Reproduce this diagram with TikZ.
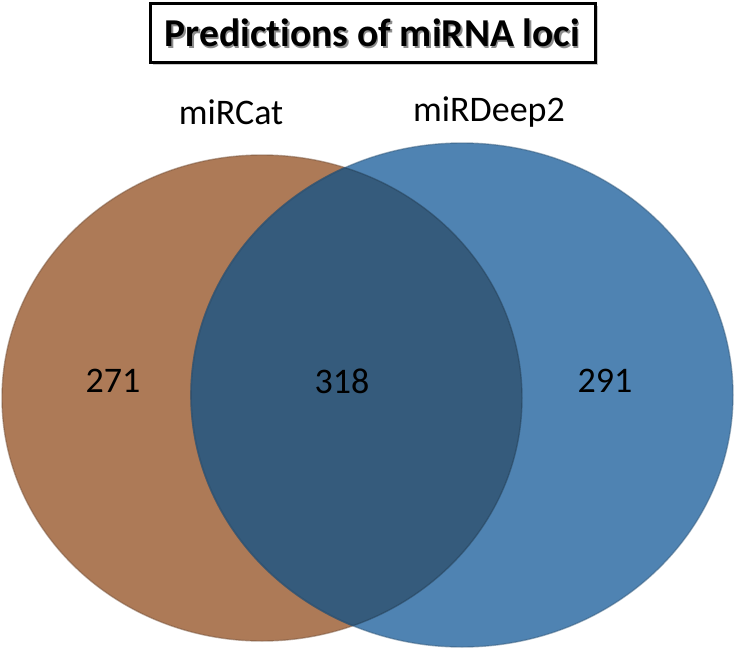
\documentclass[tikz,border=0pt]{standalone}
\usepackage{fontspec}
\setmainfont{Carlito}[Ligatures={NoCommon}]
\definecolor{brownset}{RGB}{173,122,87}
\definecolor{blueset}{RGB}{79,131,178}
\definecolor{overlapset}{RGB}{53,91,124}
\tikzset{
  setlabel/.style={font=\fontsize{36}{40}\selectfont, text=black},
  countlabel/.style={font=\fontsize{36}{40}\selectfont, text=black},
  titlebox/.style={draw=black, line width=3pt, minimum width=445pt, minimum height=59pt, inner sep=0pt, fill=white},
}
\begin{document}
\begin{tikzpicture}[x=1pt,y=-1pt]
\useasboundingbox (0,0) rectangle (734,651);
% sets
\fill[brownset] (262,398) ellipse [x radius=260, y radius=243];
\draw[brownset!70!black, line width=1.4pt, opacity=0.5] (262,398) ellipse [x radius=260, y radius=243];
\fill[blueset] (462,395) ellipse [x radius=271, y radius=252];
\begin{scope}
  \clip (262,398) ellipse [x radius=260, y radius=243];
  \fill[overlapset] (462,395) ellipse [x radius=271, y radius=252];
  \draw[overlapset!75!black, line width=1.6pt, opacity=0.6] (462,395) ellipse [x radius=271, y radius=252];
\end{scope}
\begin{scope}
  \clip (462,395) ellipse [x radius=271, y radius=252];
  \draw[overlapset!70!black, line width=1.4pt, opacity=0.5] (262,398) ellipse [x radius=260, y radius=243];
\end{scope}
\draw[blueset!70!black, line width=1.4pt, opacity=0.5] (462,395) ellipse [x radius=271, y radius=252];
% title
\fill[black!35, opacity=0.6] (153,6) rectangle (598,65);
\node[titlebox] (title) at (372.5,33) {};
\node[font=\bfseries\fontsize{39.5}{44}\selectfont, text=black!45] (titleshadow) at ([xshift=1.5pt,yshift=-1.5pt]title.center) {Predictions of miRNA loci};
\node[font=\bfseries\fontsize{39.5}{44}\selectfont, text=black] (titletext) at (title.center) {Predictions of miRNA loci};
% labels
\node[setlabel] (lcat) at (231,112) {miRCat};
\node[setlabel] (ldeep) at (489,112) {miRDeep2};
\node[countlabel] (n271) at (113,381) {271};
\node[countlabel] (n318) at (342,381) {318};
\node[countlabel] (n291) at (605,381) {291};
\end{tikzpicture}
\end{document}
